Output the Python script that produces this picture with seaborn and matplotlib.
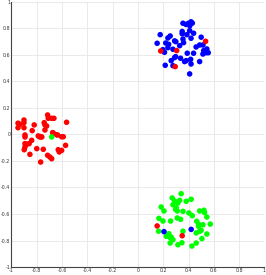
import matplotlib
matplotlib.use("Agg")
import matplotlib.pyplot as plt
import seaborn as sns
import pandas as pd

# Cluster in the upper right (mostly blue)
blue_x = [0.356, 0.40, 0.42, 0.43, 0.41, 0.38, 0.35, 0.35, 0.409, 0.44, 0.387, 0.176,
          0.255, 0.237, 0.29, 0.356, 0.361, 0.42, 0.50, 0.152, 0.243, 0.237, 0.33,
          0.488, 0.514, 0.21, 0.197, 0.277, 0.545, 0.52, 0.54, 0.556, 0.514, 0.39,
          0.44, 0.298, 0.29, 0.263, 0.337, 0.369, 0.382, 0.417, 0.488, 0.42, 0.216,
          0.277, 0.409, 0.30, 0.46, 0.22]
blue_y = [0.839, 0.839, 0.85, 0.84, 0.82, 0.83, 0.777, 0.76, 0.783, 0.764, 0.753, 0.753,
          0.743, 0.728, 0.706, 0.72, 0.693, 0.726, 0.734, 0.688, 0.68, 0.655, 0.67,
          0.675, 0.675, 0.62, 0.64, 0.643, 0.645, 0.633, 0.617, 0.617, 0.607, 0.613,
          0.613, 0.587, 0.58, 0.557, 0.575, 0.55, 0.557, 0.567, 0.55, 0.532, 0.522,
          0.519, 0.457, 0.70, 0.66, 0.69]
blue_stray_x = [0.206, 0.421]
blue_stray_y = [-0.733, -0.716]

# Cluster on the left (red)
red_x = [-0.948, -0.948, -0.933, -0.901, -0.901, -0.901, -0.893, -0.82, -0.836, -0.788,
         -0.769, -0.714, -0.741, -0.735, -0.722, -0.709, -0.682, -0.664, -0.735, -0.674,
         -0.635, -0.603, -0.59, -0.564, -0.893, -0.775, -0.76, -0.84, -0.893, -0.88,
         -0.893, -0.899, -0.86, -0.854, -0.80, -0.748, -0.714, -0.696, -0.682, -0.769,
         -0.63, -0.622, -0.603, -0.572, -0.67, -0.643]
red_y = [0.085, 0.051, 0.077, 0.109, 0.089, 0.051, -0.004, 0.072, 0.029, -0.011,
         -0.016, 0.147, 0.089, 0.072, 0.064, 0.122, 0.122, 0.122, 0.034, 0.014,
         -0.004, -0.017, -0.017, 0.092, -0.019, -0.019, -0.019, -0.044, -0.069, -0.074,
         -0.094, -0.115, -0.069, -0.15, -0.107, -0.112, -0.157, -0.17, -0.183, -0.208,
         -0.115, -0.132, -0.12, -0.082, 0.011, -0.002]
red_stray_x = [0.535, 0.18, 0.306, 0.295, 0.152, 0.35]
red_stray_y = [0.703, 0.63, 0.633, 0.512, -0.69, -0.764]

# Cluster in the lower right (mostly green)
green_x = [0.342, 0.271, 0.29, 0.33, 0.382, 0.421, 0.277, 0.316, 0.303, 0.298, 0.311,
           0.184, 0.206, 0.356, 0.403, 0.43, 0.488, 0.522, 0.527, 0.545, 0.166, 0.198,
           0.258, 0.311, 0.337, 0.465, 0.48, 0.48, 0.514, 0.572, 0.163, 0.245, 0.237,
           0.263, 0.258, 0.277, 0.224, 0.356, 0.461, 0.488, 0.5, 0.545, 0.506, 0.255,
           0.316, 0.348, 0.427, 0.461]
green_y = [-0.447, -0.479, -0.502, -0.497, -0.504, -0.489, -0.53, -0.517, -0.553, -0.565,
           -0.577, -0.547, -0.577, -0.58, -0.592, -0.613, -0.577, -0.572, -0.59, -0.623,
           -0.633, -0.653, -0.653, -0.63, -0.64, -0.655, -0.678, -0.693, -0.681, -0.676,
           -0.73, -0.749, -0.766, -0.774, -0.781, -0.794, -0.768, -0.73, -0.743, -0.731,
           -0.723, -0.751, -0.786, -0.819, -0.832, -0.817, -0.842, -0.819]
green_stray_x = [-0.682]
green_stray_y = [-0.019]

ticks = [-1, -0.8, -0.6, -0.4, -0.2, 0, 0.2, 0.4, 0.6, 0.8, 1]
tick_labels = ["-1", "-0.8", "-0.6", "-0.4", "-0.2", "0", "0.2", "0.4", "0.6", "0.8", "1"]

rows = []
for xs, ys, c in [(blue_x, blue_y, "blue"), (red_x, red_y, "red"), (green_x, green_y, "green"),
                  (blue_stray_x, blue_stray_y, "blue"), (red_stray_x, red_stray_y, "red"),
                  (green_stray_x, green_stray_y, "green")]:
    for x, y in zip(xs, ys):
        rows.append({"x": x, "y": y, "c": c})
df = pd.DataFrame(rows)

sns.set_style("white")
fig = plt.figure(figsize=(2.66, 2.75), dpi=100)
ax = fig.add_axes([0.043, 0.029, 0.951, 0.964])
sns.scatterplot(data=df, x="x", y="y", hue="c",
                palette={"blue": "#0000ff", "red": "#ff0000", "green": "#00ff00"},
                s=16, linewidth=0, legend=False, ax=ax)
ax.set_xlim(-1, 1)
ax.set_ylim(-1, 1)
ax.set_xticks(ticks)
ax.set_yticks(ticks)
ax.set_xticklabels(tick_labels, fontsize=3.4, color="#333333")
ax.set_yticklabels(tick_labels, fontsize=3.4, color="#333333")
ax.tick_params(direction="in", length=1.5, width=0.5, pad=0.8, colors="#444444", labelcolor="#333333")
ax.grid(True, color="#e6e6e6", linewidth=0.6)
ax.set_axisbelow(True)
ax.set_xlabel("")
ax.set_ylabel("")
for side in ["top", "right"]:
    ax.spines[side].set_visible(False)
for side in ["left", "bottom"]:
    ax.spines[side].set_color("#444444")
    ax.spines[side].set_linewidth(0.8)
fig.savefig("out.png", dpi=100)
